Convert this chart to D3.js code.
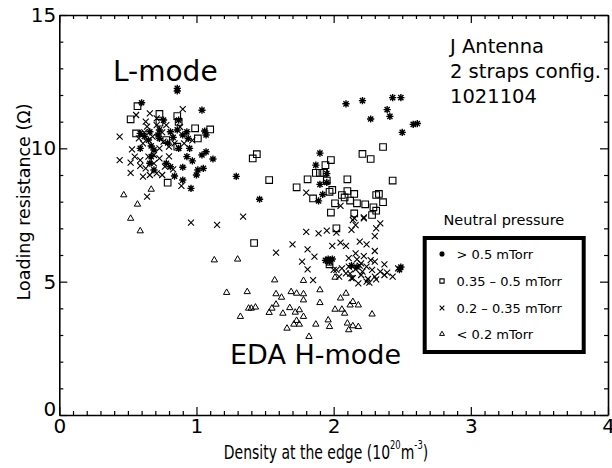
<!DOCTYPE html>
<html>
<head>
<meta charset="utf-8">
<script src="https://cdn.jsdelivr.net/npm/d3@7"></script>
<style>
  body { margin: 0; background: #fff; }
  svg { display: block; font-family: "DejaVu Sans", Verdana, sans-serif; }
  .axis path, .axis line { stroke: #000; }
  .axis text { font-size: 20px; fill: #000; }
  .mark { fill: none; stroke: #000; }
</style>
</head>
<body>
<script>
//Width and height
var w = 612;
var h = 468;

// > 0.5 mTorr (asterisks)
var highPressure = [
  [0.86,12.25],[0.86,12.15],[0.60,11.71],[1.04,11.43],[0.76,11.06],[0.87,11.06],[0.59,10.56],
  [0.66,10.62],[0.73,10.69],[0.81,10.62],[0.86,10.69],[0.93,10.62],[1.06,10.65],[1.07,10.50],
  [0.65,10.31],[0.73,10.37],[0.83,10.41],[0.94,10.37],[0.59,10.00],[0.67,10.09],[0.87,10.00],
  [0.95,10.00],[0.67,9.69],[1.07,9.87],[1.04,9.75],[1.12,9.60],[0.93,9.69],[0.97,9.53],
  [0.66,9.44],[0.78,9.44],[0.81,9.31],[0.90,9.29],[1.01,9.19],[1.05,9.25],[1.00,9.00],
  [0.84,8.96],[0.90,8.81],[0.96,8.50],[0.69,9.94],[0.69,9.19],[0.79,10.20],[0.72,10.50],
  [0.90,10.50],[0.62,10.45],
  [1.29,8.95],[1.46,8.09],[1.90,9.82],[1.87,9.37],[1.95,9.05],[1.90,8.65],[1.95,8.72],
  [1.92,8.27],[1.89,8.03],[2.09,11.67],[2.21,11.79],[2.43,11.90],[2.49,11.90],[2.39,11.45],
  [2.41,11.20],[2.27,11.10],[2.50,10.60],[2.58,10.90],[2.61,10.93],
  [1.96,5.85],[1.94,5.80],[1.97,5.75],[1.99,5.85],[2.48,5.45],[2.49,5.55],[2.17,5.55],[2.13,5.60]
];

// 0.35 - 0.5 mTorr (squares)
var midHighPressure = [
  [0.57,11.58],[0.52,11.09],[0.73,11.29],[0.86,11.21],[0.87,10.99],[0.73,10.96],[0.99,10.75],
  [1.10,10.71],[1.01,10.37],[0.56,10.56],[0.79,8.71],[0.86,10.06],[0.78,10.31],
  [1.41,9.62],[1.44,9.78],[1.53,8.81],[1.81,8.84],[1.73,8.54],[1.98,9.56],[1.94,9.37],
  [1.87,9.08],[1.90,9.08],[1.93,9.08],[1.95,8.79],[2.10,8.84],[2.21,9.79],[2.27,9.60],
  [2.36,10.05],[2.43,8.79],[1.99,8.44],[1.97,8.37],[1.85,8.12],[2.06,8.25],[2.10,8.40],
  [2.08,8.16],[2.15,8.29],[2.12,8.04],[2.17,7.94],[2.01,7.94],[1.98,7.59],[2.23,7.90],
  [2.31,8.25],[2.33,8.29],[2.36,7.98],[2.29,7.79],[2.31,7.66],[2.28,7.50],[2.15,7.56],
  [2.02,7.00],[1.42,6.45],[1.97,5.65]
];

// 0.2 - 0.35 mTorr (crosses)
var midLowPressure = [
  [0.44,10.44],[0.44,9.56],[0.52,9.46],[0.52,9.08],[0.56,11.25],[0.66,11.31],[0.90,11.47],
  [0.53,9.96],[0.59,9.56],[0.61,8.94],[0.64,8.19],[0.89,8.59],[0.73,9.62],[0.65,9.69],
  [0.71,9.06],[0.77,9.31],[0.75,9.00],[0.63,9.25],[0.66,9.00],[0.73,10.00],[0.80,10.06],
  [0.61,10.19],[0.68,10.44],[0.58,10.37],[0.76,10.25],[0.84,10.19],[0.91,10.19],[0.64,10.81],
  [0.71,10.87],[0.78,10.87],[0.63,11.00],[0.71,11.12],[0.83,9.21],[0.55,9.69],[0.69,9.44],
  [0.59,9.34],[0.69,9.75],[0.62,10.60],[0.75,10.60],[0.88,10.80],[0.97,10.30],[0.80,9.70],
  [0.96,7.21],[1.15,7.13],[1.34,7.44],
  [1.58,6.09],[1.70,6.40],[1.80,6.87],[1.81,6.21],[1.77,5.75],[1.81,5.46],[1.85,5.06],
  [1.80,8.34],[1.89,6.81],[1.95,6.91],[1.86,5.94],[2.00,5.44],[1.99,6.34],[2.02,6.84],
  [2.05,6.46],[2.09,6.34],[2.15,7.38],[2.16,7.12],[2.13,6.94],[2.22,7.41],[2.31,7.00],
  [2.34,7.19],[2.30,6.71],[2.19,6.50],[2.24,6.40],[2.30,6.15],[2.16,6.06],[2.22,5.96],
  [2.17,5.84],[2.30,5.75],[2.37,5.65],[2.24,5.56],[2.11,5.56],[2.06,5.50],[2.09,5.31],
  [2.13,5.13],[2.18,4.94],[2.24,5.00],[2.30,5.19],[2.37,5.25],[2.43,5.19],[2.34,5.38],
  [2.28,5.44],[2.21,5.38],[2.16,5.46],[2.04,5.19],[2.02,5.44],[2.26,4.96],[2.31,5.09],
  [2.27,5.81],[2.39,5.34],[2.47,5.50],[2.11,5.88],[2.20,5.69],[2.20,5.25],[2.14,5.13],
  [2.05,7.84],[2.22,7.37],[2.14,7.31],[2.25,5.10],[2.19,5.60],[2.12,5.30]
];

// < 0.2 mTorr (triangles)
var lowPressure = [
  [0.47,8.25],[0.67,8.46],[0.57,7.90],[0.52,7.37],[0.59,6.90],
  [1.13,5.81],[1.30,5.84],[1.22,4.59],[1.37,4.62],[1.38,4.00],[1.40,4.00],[1.43,4.04],
  [1.32,3.69],[1.58,4.54],[1.62,4.41],[1.55,4.00],[1.53,3.84],[1.58,4.15],[1.63,3.81],
  [1.69,4.62],[1.73,4.56],[1.78,4.54],[1.78,4.31],[1.68,4.02],[1.72,3.85],[1.75,3.94],
  [1.78,3.69],[1.73,3.54],[1.71,3.40],[1.75,3.40],[1.66,3.25],[1.82,2.94],[1.87,3.40],
  [1.90,4.69],[1.90,4.21],[1.96,3.56],[1.97,3.31],[2.01,3.96],[2.05,4.38],[2.09,4.56],
  [2.06,3.96],[2.08,3.81],[2.12,4.12],[2.14,4.25],[2.18,4.12],[2.10,3.44],[2.11,3.19],
  [2.14,3.34],[2.18,3.31],[2.28,3.78],[1.57,5.06],[1.78,5.04],[1.97,5.69],[2.01,5.16]
];

var xMajor = [0, 1, 2, 3, 4];
var yMajor = [0, 5, 10, 15];
var legendLabels = ["> 0.5 mTorr", "0.35 \u2013 0.5 mTorr", "0.2 \u2013 0.35 mTorr", "< 0.2 mTorr"];

// custom marker shapes (size = width squared)
var asterisk = { draw: function(c, s) {
  var r = Math.sqrt(s) / 2, d = r * 0.72;
  c.moveTo(0, -r); c.lineTo(0, r); c.moveTo(-r, 0); c.lineTo(r, 0);
  c.moveTo(-d, -d); c.lineTo(d, d); c.moveTo(-d, d); c.lineTo(d, -d);
}};
var square = { draw: function(c, s) {
  var r = Math.sqrt(s) / 2;
  c.moveTo(-r, -r); c.lineTo(r, -r); c.lineTo(r, r); c.lineTo(-r, r); c.closePath();
}};
var times = { draw: function(c, s) {
  var r = Math.sqrt(s) / 2;
  c.moveTo(-r, -r); c.lineTo(r, r); c.moveTo(-r, r); c.lineTo(r, -r);
}};
var triangle = { draw: function(c, s) {
  var r = Math.sqrt(s) / 2, th = r * 1.732;
  c.moveTo(0, -th * 2 / 3); c.lineTo(r, th / 3); c.lineTo(-r, th / 3); c.closePath();
}};

var series = [
  { data: highPressure, type: asterisk, size: 52, legendSize: 28, sw: 1.4 },
  { data: midHighPressure, type: square, size: 44, legendSize: 18, sw: 1.1 },
  { data: midLowPressure, type: times, size: 36, legendSize: 22, sw: 1.1 },
  { data: lowPressure, type: triangle, size: 40, legendSize: 24, sw: 1.0 }
];

var xScale = d3.scaleLinear().domain([0, 4]).range([59.3, 608]);
var yScale = d3.scaleLinear().domain([0, 15]).range([415, 15]);

var svg = d3.select("body").append("svg")
            .attr("width", w)
            .attr("height", h);

// minor ticks
var minorX = d3.range(0, 40).map(function(i) { return i / 10; }).filter(function(v) { return v % 1 !== 0; });
var minorY = d3.range(0, 16).filter(function(v) { return v % 5 !== 0; });

svg.append("g").attr("class", "axis").attr("transform", "translate(0," + yScale(0) + ")")
   .call(d3.axisBottom(xScale).tickValues(minorX).tickSize(-4).tickFormat(""))
   .call(function(g) { g.select(".domain").remove(); });
svg.append("g").attr("class", "axis").attr("transform", "translate(0," + yScale(15) + ")")
   .call(d3.axisTop(xScale).tickValues(minorX).tickSize(-4).tickFormat(""))
   .call(function(g) { g.select(".domain").remove(); });
svg.append("g").attr("class", "axis").attr("transform", "translate(" + xScale(0) + ",0)")
   .call(d3.axisLeft(yScale).tickValues(minorY).tickSize(-4).tickFormat(""))
   .call(function(g) { g.select(".domain").remove(); });
svg.append("g").attr("class", "axis").attr("transform", "translate(" + xScale(4) + ",0)")
   .call(d3.axisRight(yScale).tickValues(minorY).tickSize(-4).tickFormat(""))
   .call(function(g) { g.select(".domain").remove(); });

// major ticks + frame
svg.append("g").attr("class", "axis").attr("transform", "translate(0," + yScale(0) + ")")
   .call(d3.axisBottom(xScale).tickValues(xMajor).tickSize(-8).tickSizeOuter(0).tickPadding(4).tickFormat(d3.format("d")));
svg.append("g").attr("class", "axis").attr("transform", "translate(0," + yScale(15) + ")")
   .call(d3.axisTop(xScale).tickValues(xMajor).tickSize(-8).tickSizeOuter(0).tickFormat(""));
var yAxisG = svg.append("g").attr("class", "axis").attr("transform", "translate(" + xScale(0) + ",0)")
   .call(d3.axisLeft(yScale).tickValues(yMajor).tickSize(-8).tickSizeOuter(0).tickPadding(3).tickFormat(d3.format("d")));
svg.append("g").attr("class", "axis").attr("transform", "translate(" + xScale(4) + ",0)")
   .call(d3.axisRight(yScale).tickValues(yMajor).tickSize(-8).tickSizeOuter(0).tickFormat(""));

// the zero on the y axis sits just above the corner
yAxisG.selectAll(".tick text").filter(function(d) { return d === 0; }).attr("dy", "-0.0em");

svg.selectAll(".axis .domain").attr("stroke-width", 1.6);
svg.selectAll(".axis line").attr("stroke-width", 1.2);
svg.selectAll(".axis text").attr("font-family", "DejaVu Sans");

// points
series.forEach(function(s) {
  svg.append("g").selectAll("path")
     .data(s.data)
     .enter().append("path")
     .attr("class", "mark")
     .attr("stroke-width", s.sw)
     .attr("transform", function(d) { return "translate(" + xScale(d[0]) + "," + yScale(d[1]) + ")"; })
     .attr("d", d3.symbol().type(s.type).size(s.size));
});

// annotations
svg.append("text").attr("x", 113).attr("y", 81).attr("font-size", 28).text("L-mode");
svg.append("text").attr("x", 230).attr("y", 364).attr("font-size", 27).text("EDA H-mode");

var note = svg.append("text").attr("font-size", 19.5);
["J Antenna", "2 straps config.", "1021104"].forEach(function(t, i) {
  note.append("tspan").attr("x", 450).attr("y", 53 + i * 25).text(t);
});

// axis titles
var xt = svg.append("g").attr("transform", "translate(326,459) scale(0.7,1)")
            .append("text").attr("text-anchor", "middle").attr("font-size", 20);
xt.append("tspan").text("Density at the edge (10");
xt.append("tspan").attr("font-size", 12).attr("dy", -10).text("20");
xt.append("tspan").attr("dy", 10).text("m");
xt.append("tspan").attr("font-size", 12).attr("dy", -10).text("-3");
xt.append("tspan").attr("dy", 10).text(")");

svg.append("text")
   .attr("transform", "translate(30,202) rotate(-90)")
   .attr("text-anchor", "middle")
   .attr("font-size", 17.5)
   .text("Loading resistance (\u03A9)");

// legend
svg.append("text").attr("x", 443.5).attr("y", 225).attr("font-size", 14.5).text("Neutral pressure");
svg.append("rect")
   .attr("x", 424.7).attr("y", 238).attr("width", 159).attr("height", 114)
   .attr("fill", "none").attr("stroke", "#000").attr("stroke-width", 4);

var rows = svg.append("g").selectAll("g")
              .data(series)
              .enter().append("g")
              .attr("transform", function(d, i) { return "translate(0," + [254, 281, 308, 334][i] + ")"; });
rows.append("path")
    .attr("class", "mark")
    .attr("stroke-width", function(d) { return d.sw; })
    .attr("transform", "translate(442,0)")
    .attr("d", function(d) { return d3.symbol().type(d.type).size(d.legendSize)(); });
rows.append("text")
    .attr("x", 456.5).attr("y", 5)
    .attr("font-size", 13)
    .text(function(d, i) { return legendLabels[i]; });
</script>
</body>
</html>
